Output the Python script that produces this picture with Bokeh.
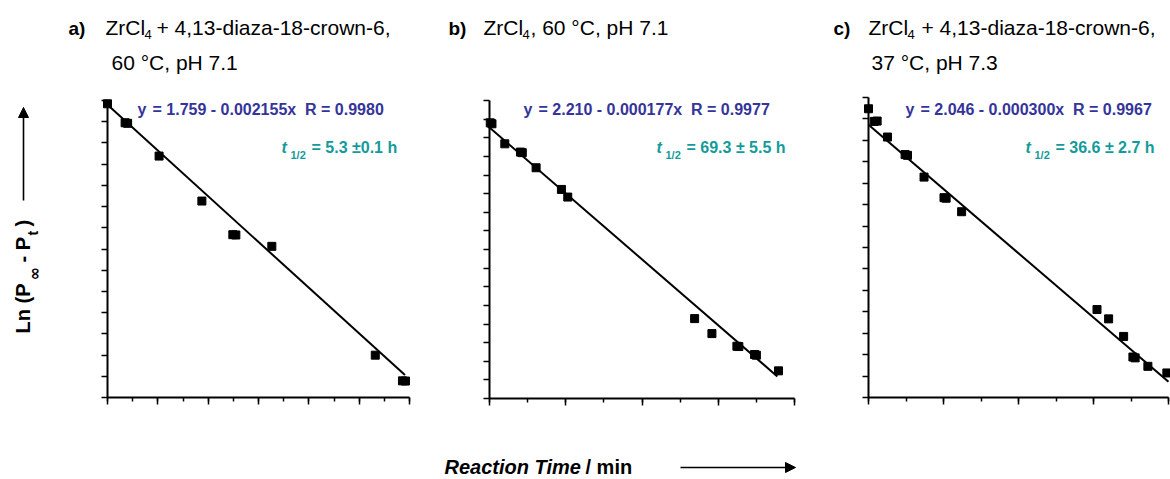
import numpy as np
from bokeh.plotting import figure
from bokeh.models import (Range1d, FixedTicker, Label, Arrow, NormalHead,
                          CustomJSTickFormatter, LinearAxis)
from bokeh.embed import file_html
from bokeh.resources import INLINE

# ---------------- data ----------------
# panel a: ZrCl4 + 4,13-diaza-18-crown-6, 60 °C, pH 7.1   (time in min)
a_time = [0, 70, 80, 205, 375, 498, 510, 653, 1064, 1172, 1184]
a_ln = [1.769, 1.59, 1.585, 1.276, 0.852, 0.535, 0.532, 0.425, -0.601, -0.843, -0.845]
a_intercept, a_slope = 1.759, -0.002155
a_fit_span = [0, 1182]

# panel b: ZrCl4, 60 °C, pH 7.1
b_time = [40, 130, 803, 1624, 1720, 2445, 3773, 4105, 10760, 11668, 12978, 13080, 13904, 14000, 15162]
b_ln = [2.26, 2.25, 2.035, 1.946, 1.94, 1.778, 1.545, 1.463, 0.158, -0.003, -0.139, -0.142, -0.228, -0.235, -0.403]
b_intercept, b_slope = 2.210, -0.000177
b_fit_span = [0, 15100]

# panel c: ZrCl4 + 4,13-diaza-18-crown-6, 37 °C, pH 7.3
c_time = [0, 151, 230, 506, 976, 1040, 1481, 2013, 2070, 2483, 6093, 6403, 6803, 7051, 7110, 7450, 7956]
c_ln = [2.195, 2.077, 2.08, 1.931, 1.767, 1.76, 1.557, 1.365, 1.36, 1.234, 0.321, 0.234, 0.070, -0.122, -0.13, -0.209, -0.271]
c_intercept, c_slope = 2.046, -0.000300
c_fit_span = [0, 8000]

# axis ranges and tick steps (the original shows no tick labels)
a_xrange, a_yrange = (0, 1200), (-1.0, 1.8)
b_xrange, b_yrange = (0, 16000), (-0.7, 2.5)
c_xrange, c_yrange = (0, 8000), (-0.5, 2.3)
a_xstep, b_xstep, c_xstep = 200, 4000, 2000
y_step = 0.2

# texts
NB = "\u00a0"
eq_texts = ["y", "= 1.759 - 0.002155x" + NB * 2 + "R = 0.9980",
            "y", "= 2.210 - 0.000177x" + NB * 2 + "R = 0.9977",
            "y", "= 2.046 - 0.000300x" + NB * 2 + "R = 0.9967"]
thalf_texts = ["= 5.3 ±0.1 h", "= 69.3 ± 5.5 h", "= 36.6 ± 2.7 h"]
x_label = ["Reaction Time", "/ min"]

FONT = "Liberation Sans"
EQ_COLOR = "#34349a"
TH_COLOR = "#139b9b"
W, H = 1170, 479

# one canvas; default ranges are page pixels (y down), panels use extra ranges
p = figure(width=W, height=H, x_range=Range1d(0, W), y_range=Range1d(H, 0),
           output_backend="svg", toolbar_location=None,
           x_axis_location=None, y_axis_location=None,
           min_border=0, min_border_left=0, min_border_right=0,
           min_border_top=0, min_border_bottom=0)
p.title.visible = False
p.outline_line_color = None
p.grid.visible = False
p.background_fill_color = "white"
p.border_fill_color = "white"


def add_panel(name, box, xr, yr, xstep, t, ln, icpt, slope, span):
    L, R, T, B = box
    kx = (xr[1] - xr[0]) / (R - L)
    ky = (yr[1] - yr[0]) / (B - T)
    p.extra_x_ranges[name + "x"] = Range1d(xr[0] - L * kx, xr[1] + (W - R) * kx)
    p.extra_y_ranges[name + "y"] = Range1d(yr[0] - (H - B) * ky, yr[1] + T * ky)
    rn = dict(x_range_name=name + "x", y_range_name=name + "y")

    xt = [float(v) for v in np.arange(xr[0], xr[1] + 1e-9, xstep)]
    xm = [float(v) for v in np.arange(xr[0], xr[1] + 1e-9, xstep / 2)]
    yt = [float(v) for v in np.round(np.arange(yr[0], yr[1] + 1e-9, y_step), 6)]
    xa = LinearAxis(fixed_location=yr[0], bounds=xr,
                    ticker=FixedTicker(ticks=xt, minor_ticks=xm), **rn)
    ya = LinearAxis(fixed_location=xr[0], bounds=yr,
                    ticker=FixedTicker(ticks=yt, minor_ticks=[]), **rn)
    for ax in (xa, ya):
        ax.axis_line_width = 2
        ax.axis_line_color = "black"
        ax.major_tick_line_width = 1.5
        ax.minor_tick_line_width = 1.5
        ax.major_tick_in = 0
        ax.minor_tick_in = 0
        ax.major_tick_out = 7
        ax.minor_tick_out = 4
        ax.formatter = CustomJSTickFormatter(code="return ''")
        ax.major_label_standoff = 0
    ya.major_tick_out = 6
    p.add_layout(xa, "below")
    p.add_layout(ya, "left")

    xs = np.array(span, dtype=float)
    p.line(xs, icpt + slope * xs, line_color="black", line_width=2, **rn)
    p.scatter(t, ln, marker="square", size=8, fill_color="black",
              line_color="black", **rn)


def txt(cx, cy, text, size, color="black", style="normal", angle=0.0, font=FONT):
    # (cx, cy) is the start of the baseline in page pixels; the label is
    # anchored at the cap-height centre, so shift by ~0.36 em
    if angle == 0.0:
        x, y = cx, cy - 0.36 * size
    else:
        x, y = cx - 0.36 * size, cy
    p.add_layout(Label(x=x, y=y, text=text, text_font=font,
                       text_font_size=f"{size}px", text_font_style=style,
                       text_color=color, text_baseline="alphabetic",
                       text_align="left", angle=angle))


def arrow(x0, y0, x1, y1):
    p.add_layout(Arrow(end=NormalHead(size=10, fill_color="black", line_color="black"),
                       x_start=x0, y_start=y0, x_end=x1, y_end=y1,
                       line_width=1.6, line_color="black"))


add_panel("a", (107, 409, 100, 397), a_xrange, a_yrange, a_xstep,
          a_time, a_ln, a_intercept, a_slope, a_fit_span)
add_panel("b", (489, 794, 100, 398), b_xrange, b_yrange, b_xstep,
          b_time, b_ln, b_intercept, b_slope, b_fit_span)
add_panel("c", (868, 1168, 97, 397), c_xrange, c_yrange, c_xstep,
          c_time, c_ln, c_intercept, c_slope, c_fit_span)

# ---- panel titles ----
txt(68, 35, "a)", 19, style="bold")
txt(105, 35, "ZrCl", 21)
txt(144, 39, "4", 13)
txt(156, 35, "+ 4,13-diaza-18-crown-6,", 21)
txt(111, 70, "60 °C, pH 7.1", 21)

txt(448, 35, "b)", 19, style="bold")
txt(483, 35, "ZrCl", 21)
txt(522, 39, "4", 13)
txt(530, 35, ", 60 °C, pH 7.1", 21)

txt(833, 35, "c)", 19, style="bold")
txt(868, 35, "ZrCl", 21)
txt(907, 39, "4", 13)
txt(921, 35, "+ 4,13-diaza-18-crown-6,", 21)
txt(871, 70, "37 °C, pH 7.3", 21)

# ---- fit equations and half-lives ----
for x0, i in ((137, 0), (523, 2), (905, 4)):
    txt(x0, 115, eq_texts[i], 16, EQ_COLOR, "bold")
    txt(x0 + 15, 115, eq_texts[i + 1], 16, EQ_COLOR, "bold")
for x0, s in ((281, thalf_texts[0]), (656, thalf_texts[1]), (1025, thalf_texts[2])):
    txt(x0, 153, "t", 16, TH_COLOR, "bold italic")
    txt(x0 + 9, 158, "1/2", 11, TH_COLOR, "bold")
    txt(x0 + 30, 153, s, 16, TH_COLOR, "bold")

# ---- y axis label (rotated, with subscripts) and arrow ----
rot = np.pi / 2
txt(30, 333, "Ln (P", 20, style="bold", angle=rot)
txt(40, 280, "∞", 16, style="bold", angle=rot, font="DejaVu Sans")
txt(30, 262, "- P", 20, style="bold", angle=rot)
txt(38, 235, "t", 14, style="bold", angle=rot)
txt(30, 226, ")", 20, style="bold", angle=rot)
arrow(23, 200, 23, 107)

# ---- x axis label and arrow ----
txt(444, 474, x_label[0], 20, style="bold italic")
txt(585, 474, x_label[1], 20, style="bold")
arrow(680, 467, 795, 467)

open("out.html", "w").write(file_html(p, INLINE))
